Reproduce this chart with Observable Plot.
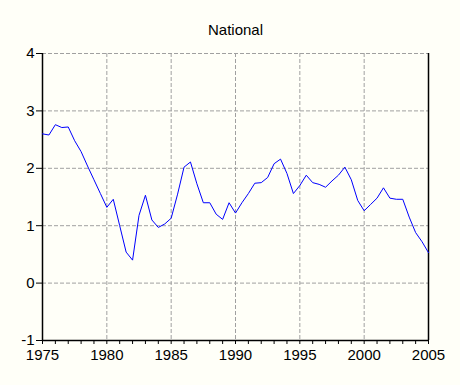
<!DOCTYPE html>
<html>
<head>
<meta charset="utf-8">
<script src="https://cdn.jsdelivr.net/npm/d3@7"></script>
<script src="https://cdn.jsdelivr.net/npm/@observablehq/plot@0.6"></script>
<style>
  html, body { margin: 0; padding: 0; background: #fffff8; }
  #chart svg { display: block; }
  #chart svg, #chart svg text { font-family: "Liberation Sans", Arial, sans-serif !important; font-size: 15px !important; }
</style>
</head>
<body>
<div id="chart"></div>
<script>
const title = "National";
const startYear = 1975;
const step = 0.5; // semi-annual observations
const values = [
  2.60, 2.58, 2.76, 2.71, 2.72, 2.48, 2.29, 2.04, 1.80, 1.56,
  1.32, 1.46, 1.00, 0.54, 0.40, 1.18, 1.53, 1.10, 0.97, 1.03,
  1.13, 1.55, 2.02, 2.11, 1.73, 1.40, 1.40, 1.20, 1.11, 1.40,
  1.22, 1.40, 1.56, 1.74, 1.75, 1.84, 2.08, 2.16, 1.91, 1.56,
  1.70, 1.88, 1.75, 1.72, 1.67, 1.78, 1.88, 2.02, 1.80, 1.44,
  1.26, 1.37, 1.48, 1.66, 1.48, 1.46, 1.46, 1.15, 0.88, 0.72,
  0.53
];
const xTicksMajor = [1975, 1980, 1985, 1990, 1995, 2000, 2005];
const xTicksMinor = d3.range(1975, 2006, 1);
const yTicks = [-1, 0, 1, 2, 3, 4];

const data = values.map((v, i) => ({ t: startYear + i * step, v }));

const grid = { stroke: "#a0a0a0", strokeOpacity: 1, strokeDasharray: "4,2", strokeWidth: 1 };

const chart = Plot.plot({
  width: 460,
  height: 385,
  marginTop: 53,
  marginLeft: 42,
  marginRight: 32,
  marginBottom: 45,
  style: { background: "#fffff8", color: "black" },
  x: { domain: [1975, 2005], label: null },
  y: { domain: [-1, 4], label: null },
  marks: [
    Plot.gridX(xTicksMajor.slice(1, -1), grid),
    Plot.gridY(yTicks.slice(1), grid),
    Plot.axisY({ ticks: yTicks, tickSize: 6, tickPadding: 2, tickFormat: d => String(d), label: null }),
    Plot.axisX({ ticks: xTicksMinor, tickSize: 4, tickFormat: () => "", label: null }),
    Plot.axisX({ ticks: xTicksMajor, tickSize: 0, tickPadding: 9, tickFormat: d => String(d), label: null }),
    Plot.ruleX([1975, 2005], { stroke: "black", strokeWidth: 1.5 }),
    Plot.ruleY([-1], { stroke: "black", strokeWidth: 1.5 }),
    Plot.line(data, { x: "t", y: "v", stroke: "#0000ff", strokeWidth: 1 }),
    Plot.text([title], { frameAnchor: "top", dy: -29, fill: "black" })
  ]
});
document.getElementById("chart").appendChild(chart);
</script>
</body>
</html>
